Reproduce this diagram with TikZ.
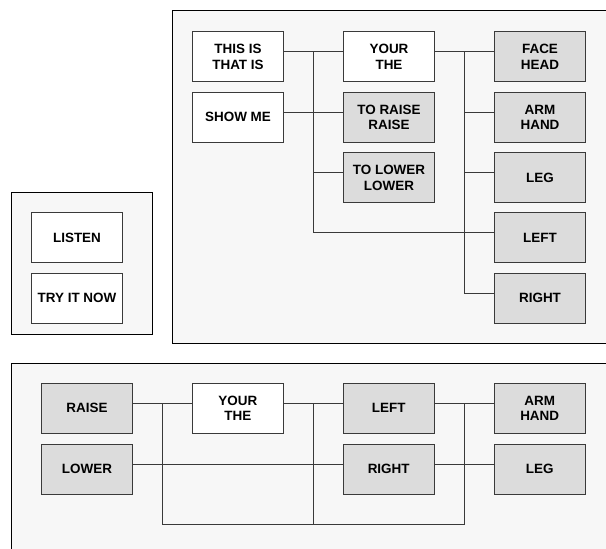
\documentclass[tikz,border=0pt]{standalone}
\usepackage{fontspec}
\setmainfont{Liberation Sans}
\definecolor{panelfill}{HTML}{F7F7F7}
\definecolor{boxgray}{HTML}{DCDCDC}
\definecolor{edge}{HTML}{3A3A3A}
\tikzset{
  panel/.style={draw=black, line width=1bp, fill=panelfill},
  wbox/.style={draw=edge, line width=0.9bp, fill=white, minimum width=91bp, minimum height=50bp,
    inner sep=0pt, align=center, font=\fontsize{13.5}{15.7}\selectfont\bfseries},
  gbox/.style={wbox, fill=boxgray},
  conn/.style={draw=edge, line width=0.9bp},
}
\begin{document}
\begin{tikzpicture}[x=1bp,y=-1bp]
\useasboundingbox (0,0) rectangle (606,549);
\clip (0,0) rectangle (606,549);
% panels
\path[panel] (172.7,10.7) rectangle (620,343);
\path[panel] (11.7,192.3) rectangle (152.7,334.3);
\path[panel] (11.7,363.3) rectangle (620,560);
% left panel
\node[wbox] (listen) at (77,237.5) {LISTEN};
\node[wbox] (try) at (77,298) {TRY IT NOW};
% top panel
\node[wbox] (this) at (238,56.7) {THIS IS\\THAT IS};
\node[wbox] (show) at (238,117.2) {SHOW ME};
\node[wbox] (your) at (389,56.7) {YOUR\\THE};
\node[gbox] (toraise) at (389,117.2) {TO RAISE\\RAISE};
\node[gbox] (tolower) at (389,177.6) {TO LOWER\\LOWER};
\node[gbox] (face) at (540,56.7) {FACE\\HEAD};
\node[gbox] (arm) at (540,117.2) {ARM\\HAND};
\node[gbox] (leg) at (540,177.6) {LEG};
\node[gbox] (left) at (540,237.7) {LEFT};
\node[gbox] (right) at (540,298) {RIGHT};
\coordinate (b1) at (313.3,51.7);
\coordinate (b2) at (464,51.7);
\draw[conn] ([yshift=5bp]this.east) -- ([yshift=5bp]your.west);
\draw[conn] ([yshift=5bp]show.east) -- ([yshift=5bp]toraise.west);
\draw[conn] (b1) |- ([yshift=5bp]left.west);
\draw[conn] ([yshift=5bp]tolower.west) -- ([yshift=5bp]tolower.west -| b1);
\draw[conn] ([yshift=5bp]your.east) -- ([yshift=5bp]face.west);
\draw[conn] (b2) |- ([yshift=5bp]right.west);
\draw[conn] ([yshift=5bp]arm.west) -- ([yshift=5bp]arm.west -| b2);
\draw[conn] ([yshift=5bp]leg.west) -- ([yshift=5bp]leg.west -| b2);
% bottom panel
\node[gbox] (braise) at (87,408.3) {RAISE};
\node[gbox] (blower) at (87,469) {LOWER};
\node[wbox] (byour) at (237.8,408.3) {YOUR\\THE};
\node[gbox] (bleft) at (388.7,408.3) {LEFT};
\node[gbox] (bright) at (388.7,469) {RIGHT};
\node[gbox] (barm) at (539.7,408.3) {ARM\\HAND};
\node[gbox] (bleg) at (539.7,469) {LEG};
\coordinate (c1) at (162.3,403.3);
\coordinate (c2) at (313.3,403.3);
\coordinate (c3) at (464,403.3);
\coordinate (c1b) at (162.3,524);
\coordinate (c2b) at (313.3,524);
\coordinate (c3b) at (464,524);
\draw[conn] ([yshift=5bp]braise.east) -- ([yshift=5bp]byour.west);
\draw[conn] ([yshift=5bp]byour.east) -- ([yshift=5bp]bleft.west);
\draw[conn] ([yshift=5bp]bleft.east) -- ([yshift=5bp]barm.west);
\draw[conn] ([yshift=5bp]blower.east) -- ([yshift=5bp]bright.west);
\draw[conn] ([yshift=5bp]bright.east) -- ([yshift=5bp]bleg.west);
\draw[conn] (c1) -- (c1b) -- (c3b) -- (c3);
\draw[conn] (c2) -- (c2b);
\end{tikzpicture}
\end{document}
